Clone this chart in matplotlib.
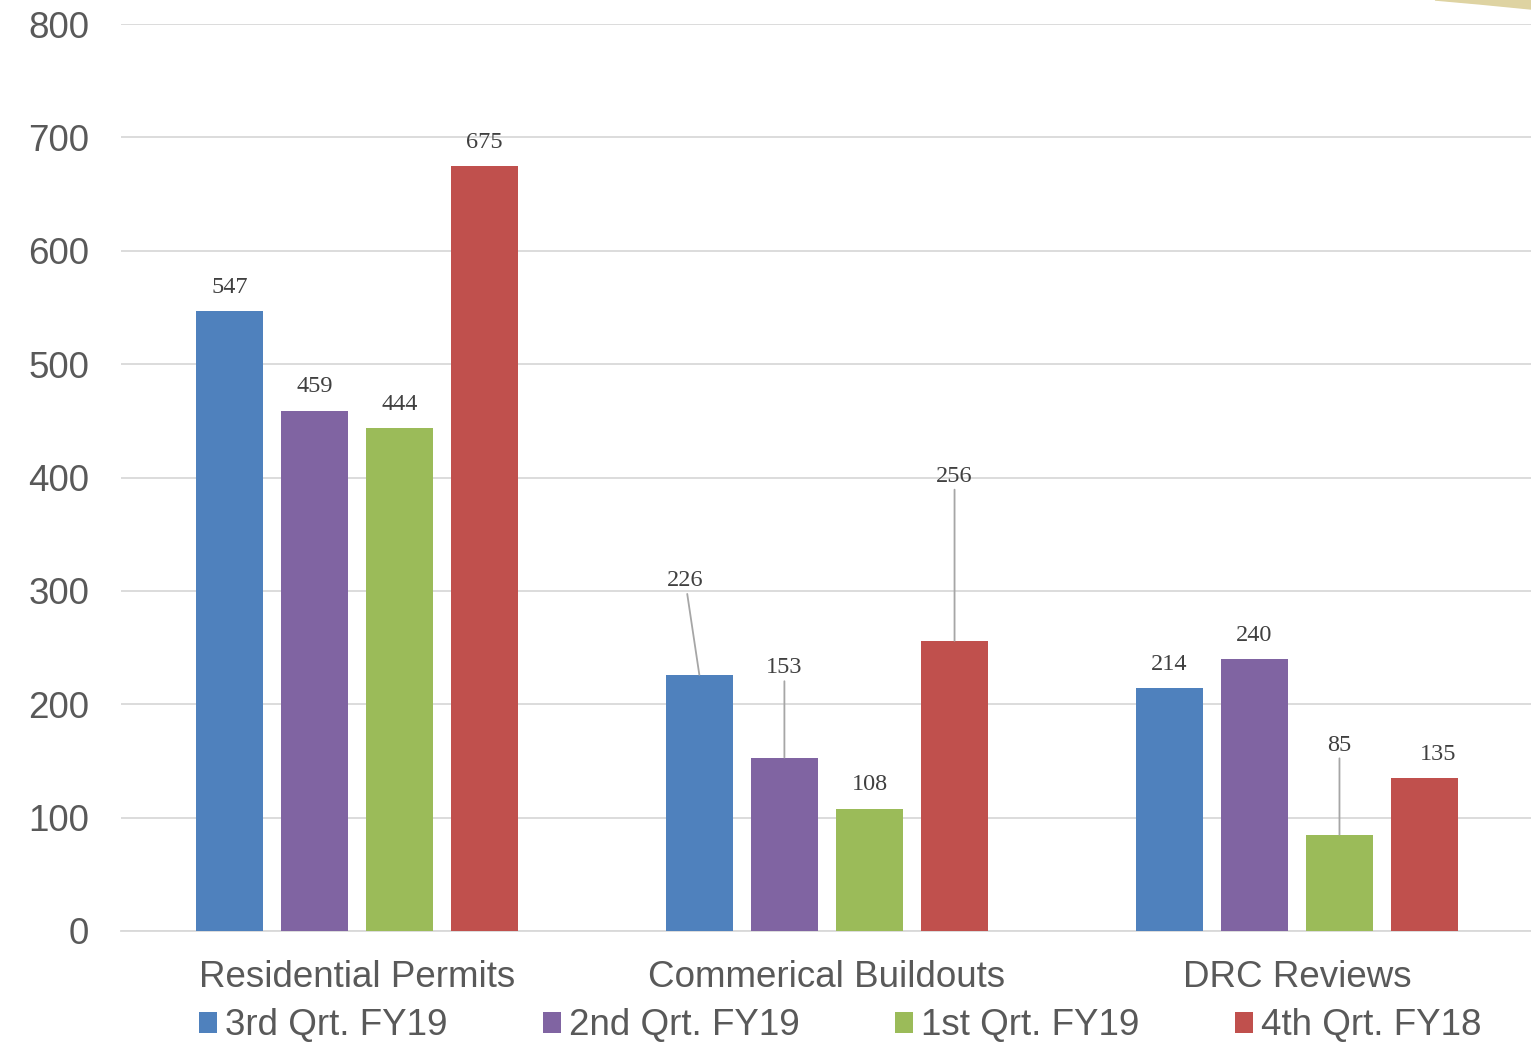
import matplotlib
matplotlib.use("Agg")
import matplotlib.pyplot as plt
from matplotlib.patches import Polygon
import numpy as np

# Chart data
categories = ["Residential Permits", "Commerical Buildouts", "DRC Reviews"]
series_names = ["3rd Qrt. FY19", "2nd Qrt. FY19", "1st Qrt. FY19", "4th Qrt. FY18"]
q3_fy19 = [547, 226, 214]
q2_fy19 = [459, 153, 240]
q1_fy19 = [444, 108, 85]
q4_fy18 = [675, 256, 135]
y_ticks = [0, 100, 200, 300, 400, 500, 600, 700, 800]

series = [q3_fy19, q2_fy19, q1_fy19, q4_fy18]
colors = ["#4F81BD", "#8064A2", "#9BBB59", "#C0504D"]

# labels that sit higher with a leader line: (group, series) -> (dx, lift)
leader_labels = {(1, 0): (-0.03, 83), (1, 1): (0, 79), (1, 3): (0, 145), (2, 2): (0, 79)}
# small sideways nudges for plain labels
label_dx = {(2, 3): 0.028}

fig = plt.figure(figsize=(15.31, 10.42), dpi=100)
ax = fig.add_axes([121 / 1531, 111 / 1042, 1 - 121 / 1531, 907 / 1042])

x = np.arange(len(categories))
step = 0.181
width = 0.143
lbl_font = dict(fontsize=17.5, family="Liberation Serif", color="#404040")
for i, vals in enumerate(series):
    pos = x + (i - 1.5) * step
    ax.bar(pos, vals, width, color=colors[i], label=series_names[i], zorder=3)
    for g, v in enumerate(vals):
        if (g, i) in leader_labels:
            dx, lift = leader_labels[(g, i)]
            ax.annotate(str(v), xy=(pos[g], v), xytext=(pos[g] + dx, v + lift),
                        ha="center", va="center", zorder=4, **lbl_font,
                        arrowprops=dict(arrowstyle="-", color="#A6A6A6", lw=1.3,
                                        shrinkA=0, shrinkB=0))
        else:
            dx = label_dx.get((g, i), 0)
            ax.annotate(str(v), xy=(pos[g] + dx, v), xytext=(0, 17), textcoords="offset points",
                        ha="center", va="center", zorder=4, **lbl_font)

ax.set_xlim(-0.502, 2.498)
ax.set_ylim(0, 800)
ax.set_yticks(y_ticks)
ax.set_xticks(x)
ax.set_xticklabels(categories)
ax.grid(axis="y", color="#D9D9D9", lw=1.3, zorder=0)
for s in ["top", "right", "left"]:
    ax.spines[s].set_visible(False)
ax.spines["bottom"].set_color("#D9D9D9")
ax.spines["bottom"].set_linewidth(1.3)
ax.tick_params(axis="both", length=0, labelsize=26.5, labelcolor="#595959")
ax.tick_params(axis="y", pad=23)
ax.tick_params(axis="x", pad=21)
for lbl in ax.get_xticklabels() + ax.get_yticklabels():
    lbl.set_family("Liberation Sans")

fig.legend(loc="center", bbox_to_anchor=(840 / 1531, 16 / 1042), ncol=4, frameon=False,
           prop={"family": "Liberation Sans", "size": 26.5}, labelcolor="#595959",
           handlelength=0.5, handleheight=0.5, handletextpad=0.2, columnspacing=2.6,
           borderpad=0, borderaxespad=0)

# decorative corner shape
fig.patches.append(Polygon([(1435 / 1531, 1), (1, 1), (1, 1 - 9 / 1042), (1480 / 1531, 1 - 4 / 1042)],
                           closed=True, transform=fig.transFigure, color="#DED3A2"))

fig.savefig("out.png", dpi=100)
